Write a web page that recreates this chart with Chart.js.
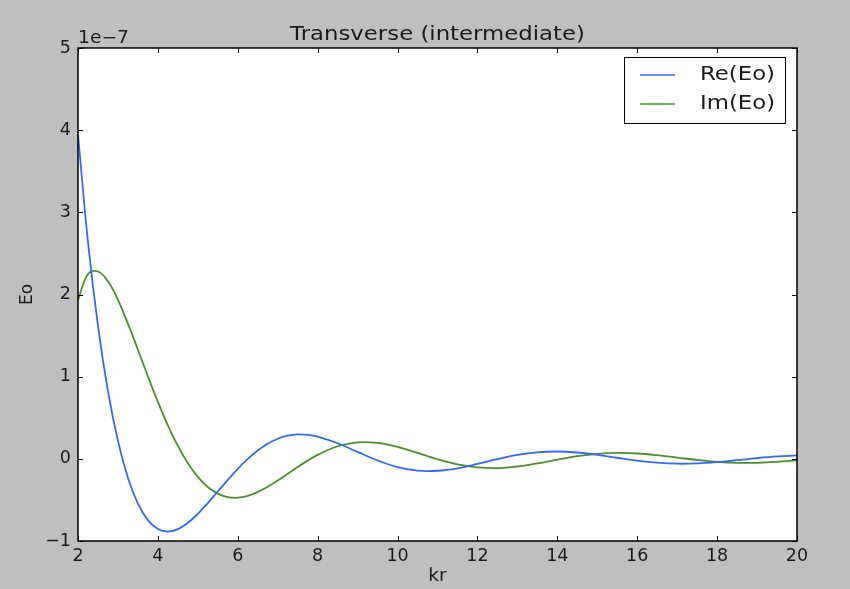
<!DOCTYPE html>
<html>
<head>
<meta charset="utf-8">
<title>Transverse (intermediate)</title>
<script src="https://cdn.jsdelivr.net/npm/chart.js@4/dist/chart.umd.min.js"></script>
<style>
  html, body { margin: 0; padding: 0; background: #bfbfbf; }
  canvas { display: block; }
</style>
</head>
<body>
<canvas id="fieldChart" width="850" height="589"></canvas>
<script>
// kr samples (finer steps near the source where the field changes fast)
const kr = [
  2, 2.25, 2.5, 2.75, 3, 3.25, 3.5, 3.75, 4, 4.25, 4.5, 4.75, 5, 5.25, 5.5, 5.75,
  6, 6.25, 6.5, 6.75, 7, 7.25, 7.5, 7.75, 8, 8.5, 9, 9.5, 10, 10.5, 11, 11.5,
  12, 12.5, 13, 13.5, 14, 14.5, 15, 15.5, 16, 16.5, 17, 17.5, 18, 18.5, 19, 19.5, 20
];

// field values, in units of 1e-7
const reEo = [
  3.944, 2.638, 1.617, 0.823, 0.218, -0.230, -0.544, -0.746, -0.854, -0.885, -0.855, -0.778, -0.669, -0.538, -0.398, -0.257,
  -0.122, -0.001, 0.102, 0.184, 0.244, 0.281, 0.297, 0.292, 0.271, 0.190, 0.084, -0.020, -0.100, -0.143, -0.145, -0.115,
  -0.062, -0.004, 0.047, 0.079, 0.089, 0.077, 0.049, 0.013, -0.022, -0.047, -0.059, -0.056, -0.040, -0.016, 0.009, 0.029, 0.041
];
const imEo = [
  1.930, 2.250, 2.280, 2.160, 1.935, 1.645, 1.328, 1.005, 0.694, 0.408, 0.157, -0.053, -0.219, -0.343, -0.424, -0.466,
  -0.473, -0.451, -0.404, -0.340, -0.264, -0.182, -0.099, -0.022, 0.048, 0.153, 0.201, 0.194, 0.145, 0.072, -0.005, -0.068,
  -0.105, -0.113, -0.093, -0.055, -0.010, 0.032, 0.061, 0.072, 0.065, 0.044, 0.015, -0.014, -0.037, -0.049, -0.048, -0.036, -0.017
];

const xTicks = [2, 4, 6, 8, 10, 12, 14, 16, 18, 20];
const yTicks = [-1, 0, 1, 2, 3, 4, 5];

const seriesNames = ['Re(Eo)', 'Im(Eo)'];
const seriesColors = ['#3366ff', '#4b8f2a'];

const FONT = '"DejaVu Sans", sans-serif';

function toPoints(ys) {
  return kr.map((x, i) => ({ x: x, y: ys[i] }));
}

// text drawn slightly wider than its height, like the saved figure
function wideText(ctx, text, x, y, stretch) {
  ctx.save();
  ctx.translate(x, y);
  ctx.scale(stretch, 1);
  ctx.fillText(text, 0, 0);
  ctx.restore();
}

// matplotlib-like frame: grey figure, white axes, inward ticks on every side
const framePlugin = {
  id: 'frame',
  beforeDraw(chart) {
    const ctx = chart.ctx;
    ctx.save();
    ctx.fillStyle = '#bfbfbf';
    ctx.fillRect(0, 0, chart.width, chart.height);
    const a = chart.chartArea;
    ctx.fillStyle = '#ffffff';
    ctx.fillRect(a.left, a.top, a.right - a.left, a.bottom - a.top);
    ctx.restore();
  },
  afterDatasetsDraw(chart) {
    const ctx = chart.ctx;
    const a = chart.chartArea;
    const xs = chart.scales.x;
    const ys = chart.scales.y;
    const len = 5;
    ctx.save();
    ctx.strokeStyle = '#000000';
    ctx.lineWidth = 1;
    ctx.beginPath();
    xTicks.forEach(v => {
      const px = Math.round(xs.getPixelForValue(v)) + 0.5;
      ctx.moveTo(px, a.bottom); ctx.lineTo(px, a.bottom - len);
      ctx.moveTo(px, a.top); ctx.lineTo(px, a.top + len);
    });
    yTicks.forEach(v => {
      const py = Math.round(ys.getPixelForValue(v)) + 0.5;
      ctx.moveTo(a.left, py); ctx.lineTo(a.left + len, py);
      ctx.moveTo(a.right, py); ctx.lineTo(a.right - len, py);
    });
    ctx.stroke();
    ctx.lineWidth = 1.5;
    ctx.strokeRect(a.left, a.top, a.right - a.left, a.bottom - a.top);
    ctx.restore();
  },
  afterDraw(chart) {
    const ctx = chart.ctx;
    const a = chart.chartArea;
    ctx.save();
    ctx.fillStyle = '#1a1a1a';

    // title
    ctx.font = '20px ' + FONT;
    ctx.textAlign = 'center';
    ctx.textBaseline = 'alphabetic';
    wideText(ctx, 'Transverse (intermediate)', (a.left + a.right) / 2, 40, 1.14);

    // offset text of the y axis
    ctx.font = '17px ' + FONT;
    ctx.textAlign = 'left';
    wideText(ctx, '1e\u22127', a.left, 43, 1.1);

    // axis labels
    ctx.textAlign = 'center';
    ctx.textBaseline = 'middle';
    wideText(ctx, 'kr', (a.left + a.right) / 2, 577, 1.1);
    ctx.save();
    ctx.translate(28, (a.top + a.bottom) / 2);
    ctx.rotate(-Math.PI / 2);
    ctx.fillText('Eo', 0, 0);
    ctx.restore();

    // legend box in the upper right corner
    const box = { left: 624.5, top: 57.5, right: 785.5, bottom: 123.5 };
    ctx.fillStyle = '#ffffff';
    ctx.fillRect(box.left, box.top, box.right - box.left, box.bottom - box.top);
    ctx.strokeStyle = '#000000';
    ctx.lineWidth = 1;
    ctx.strokeRect(box.left, box.top, box.right - box.left, box.bottom - box.top);
    chart.data.datasets.forEach((ds, i) => {
      const y = 75 + i * 29;
      ctx.strokeStyle = ds.borderColor;
      ctx.lineWidth = 1.6;
      ctx.beginPath();
      ctx.moveTo(640, y);
      ctx.lineTo(675, y);
      ctx.stroke();
      ctx.fillStyle = '#1a1a1a';
      ctx.font = '19px ' + FONT;
      ctx.textAlign = 'left';
      ctx.textBaseline = 'middle';
      wideText(ctx, ds.label, 700, y, 1.2);
    });
    ctx.restore();
  }
};

const tickFont = { family: FONT, size: 17.5 };

new Chart(document.getElementById('fieldChart'), {
  type: 'line',
  data: {
    datasets: [
      {
        label: seriesNames[0],
        data: toPoints(reEo),
        borderColor: seriesColors[0],
        borderWidth: 1.8,
        pointRadius: 0,
        tension: 0.4,
        fill: false
      },
      {
        label: seriesNames[1],
        data: toPoints(imEo),
        borderColor: seriesColors[1],
        borderWidth: 1.8,
        pointRadius: 0,
        tension: 0.4,
        fill: false
      }
    ]
  },
  options: {
    responsive: false,
    animation: false,
    events: [],
    layout: { padding: { left: 0, top: 48, right: 53, bottom: 0 } },
    plugins: {
      legend: { display: false },
      title: { display: false },
      tooltip: { enabled: false }
    },
    scales: {
      x: {
        type: 'linear',
        min: 2,
        max: 20,
        border: { display: false },
        grid: { display: false, drawTicks: false },
        afterBuildTicks: scale => { scale.ticks = xTicks.map(v => ({ value: v })); },
        afterFit: scale => { scale.height = 48; },
        ticks: {
          font: tickFont,
          color: '#1a1a1a',
          padding: 5,
          maxRotation: 0,
          callback: v => String(v)
        }
      },
      y: {
        type: 'linear',
        min: -1,
        max: 5,
        border: { display: false },
        grid: { display: false, drawTicks: false },
        afterBuildTicks: scale => { scale.ticks = yTicks.map(v => ({ value: v })); },
        afterFit: scale => { scale.width = 78; },
        ticks: {
          font: tickFont,
          color: '#1a1a1a',
          padding: 7,
          callback: v => (v < 0 ? '\u2212' + Math.abs(v) : String(v))
        }
      }
    }
  },
  plugins: [framePlugin]
});
</script>
</body>
</html>
